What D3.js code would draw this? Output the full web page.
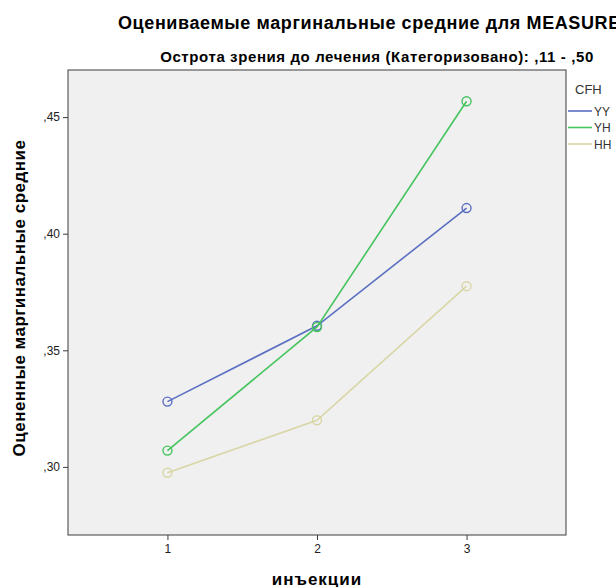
<!DOCTYPE html>
<html>
<head>
<meta charset="utf-8">
<script src="https://cdn.jsdelivr.net/npm/d3@7"></script>
<style>
  body { margin:0; background:#fff; }
  text { font-family: "Liberation Sans", Arial, sans-serif; }
</style>
</head>
<body>
<div id="chart"></div>
<script>
// data
const injections = [1, 2, 3];
const groups = ['YY', 'YH', 'HH'];
const valuesYY = [0.328, 0.3605, 0.411];
const valuesYH = [0.307, 0.360, 0.4568];
const valuesHH = [0.2975, 0.320, 0.3775];
const yTicks = [0.30, 0.35, 0.40, 0.45];
const colors = { YY: '#5b6fc2', YH: '#46c45e', HH: '#d9d6a6' };

const series = [
  { name: 'YY', values: valuesYY },
  { name: 'YH', values: valuesYH },
  { name: 'HH', values: valuesHH }
];

const W = 616, H = 587;
const plot = { left: 68, right: 566, top: 70, bottom: 535 };

const svg = d3.select('#chart').append('svg').attr('width', W).attr('height', H);

const x = d3.scaleLinear().domain([0.335, 3.665]).range([plot.left, plot.right]);
const y = d3.scaleLinear().domain([0.2708, 0.4702]).range([plot.bottom, plot.top]);

// plot background
svg.append('rect')
  .attr('x', plot.left).attr('y', plot.top)
  .attr('width', plot.right - plot.left).attr('height', plot.bottom - plot.top)
  .attr('fill', '#f0f0f0').attr('stroke', '#3c3c3c').attr('stroke-width', 1);

// axes
const fmt = d => d3.format('.2f')(d).replace('0.', ',');
const yAxis = svg.append('g').attr('transform', `translate(${plot.left},0)`)
  .call(d3.axisLeft(y).tickValues(yTicks).tickFormat(fmt).tickSize(5).tickPadding(3));
const xAxis = svg.append('g').attr('transform', `translate(0,${plot.bottom})`)
  .call(d3.axisBottom(x).tickValues(injections).tickFormat(d3.format('d')).tickSize(5).tickPadding(4));
[yAxis, xAxis].forEach(a => {
  a.select('.domain').remove();
  a.selectAll('line').attr('stroke', '#3c3c3c');
  a.selectAll('text').attr('fill', '#222').style('font-size', '12px')
    .style('font-family', '"Liberation Sans", Arial, sans-serif');
});

// lines + hollow markers
const line = d3.line().x((d, i) => x(injections[i])).y(d => y(d));
series.forEach(s => {
  svg.append('path').datum(s.values)
    .attr('d', line).attr('fill', 'none')
    .attr('stroke', colors[s.name]).attr('stroke-width', 1.6);
  svg.selectAll(null).data(s.values).enter().append('circle')
    .attr('cx', (d, i) => x(injections[i])).attr('cy', d => y(d))
    .attr('r', 4.5).attr('fill', 'none')
    .attr('stroke', colors[s.name]).attr('stroke-width', 1.4);
});

// titles (main title runs off the right edge, as in the original export)
svg.append('text').attr('x', 118).attr('y', 29)
  .style('font-size', '18px').style('font-weight', 'bold').style('letter-spacing', '0.6px').attr('fill', '#000')
  .text('Оцениваемые маргинальные средние для MEASURE_1');
svg.append('text').attr('x', 377).attr('y', 62).attr('text-anchor', 'middle')
  .style('font-size', '15px').style('font-weight', 'bold').style('letter-spacing', '0.6px').attr('fill', '#000')
  .text('Острота зрения до лечения (Категоризовано): ,11 - ,50');
svg.append('text').attr('x', 317).attr('y', 585).attr('text-anchor', 'middle')
  .style('font-size', '17px').style('font-weight', 'bold').style('letter-spacing', '1px').attr('fill', '#000')
  .text('инъекции');
svg.append('text').attr('transform', 'translate(25,298) rotate(-90)').attr('text-anchor', 'middle')
  .style('font-size', '17px').style('font-weight', 'bold').style('letter-spacing', '0.5px').attr('fill', '#000')
  .text('Оцененные маргинальные средние');

// legend
const legend = svg.append('g').attr('transform', 'translate(568,0)');
legend.append('text').attr('x', 7).attr('y', 94)
  .style('font-size', '13px').attr('fill', '#333').text('CFH');
groups.forEach((g, i) => {
  const ly = 111 + i * 16.5;
  legend.append('line').attr('x1', 0).attr('x2', 24).attr('y1', ly).attr('y2', ly)
    .attr('stroke', colors[g]).attr('stroke-width', 1.6);
  legend.append('text').attr('x', 26).attr('y', ly + 4.5)
    .style('font-size', '12px').attr('fill', '#333').text(g);
});
</script>
</body>
</html>
